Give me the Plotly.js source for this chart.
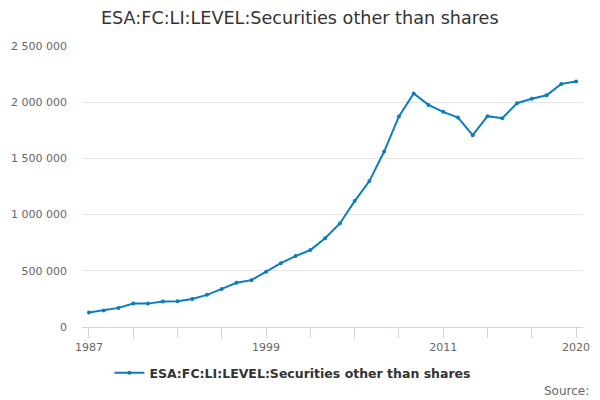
<!DOCTYPE html>
<html>
<head>
<meta charset="utf-8">
<script src="https://cdn.plot.ly/plotly-3.0.1.min.js"></script>
<style>
  html, body { margin: 0; padding: 0; background: #fff; }
  #chart { width: 600px; height: 400px; }
</style>
</head>
<body>
<div id="chart"></div>
<script>
// ESA:FC:LI:LEVEL - Securities other than shares, annual
var years = [1987, 1988, 1989, 1990, 1991, 1992, 1993, 1994, 1995, 1996, 1997, 1998,
             1999, 2000, 2001, 2002, 2003, 2004, 2005, 2006, 2007, 2008, 2009, 2010,
             2011, 2012, 2013, 2014, 2015, 2016, 2017, 2018, 2019, 2020];
var values = [128000, 146000, 170000, 208000, 208000, 226000, 229000, 250000, 286000, 339000, 393000, 417000,
              491000, 568000, 631000, 685000, 790000, 921000, 1120000, 1298000, 1561000, 1873000, 2077000, 1976000,
              1914000, 1864000, 1707000, 1876000, 1858000, 1991000, 2030000, 2062000, 2163000, 2184000];
var tickYears = [1987, 1990, 1993, 1996, 1999, 2002, 2005, 2008, 2011, 2014, 2017, 2020];
var tickLabels = ['1987', '', '', '', '1999', '', '', '', '2011', '', '', '2020'];
var yTicks = [0, 500000, 1000000, 1500000, 2000000, 2500000];

var trace1 = {
  x: years,
  y: values,
  name: 'ESA:FC:LI:LEVEL:Securities other than shares',
  type: 'scatter',
  mode: 'lines+markers',
  line: { color: '#0b7cc1', width: 2 },
  marker: { color: '#0b7cc1', size: 4 },
  hoverinfo: 'x+y'
};

var layout = {
  width: 600,
  height: 400,
  separators: '. ',
  font: { family: 'DejaVu Sans, sans-serif', color: '#666666', size: 11 },
  title: {
    text: 'ESA:FC:LI:LEVEL:Securities other than shares',
    font: { family: 'DejaVu Sans, sans-serif', size: 17.6, color: '#333333' },
    x: 101 / 600,
    xanchor: 'left',
    y: 1 - 18 / 400,
    yanchor: 'middle'
  },
  showlegend: true,
  legend: {
    orientation: 'h',
    x: 0.421,
    xanchor: 'center',
    y: -0.164,
    yanchor: 'middle',
    font: { size: 12.5, color: '#333333', weight: 'bold' }
  },
  xaxis: {
    range: [1986.53, 2020.47],
    tickmode: 'array',
    tickvals: tickYears,
    ticktext: tickLabels,
    ticks: 'outside',
    ticklen: 10,
    tickcolor: '#ccd6eb',
    showline: true,
    linecolor: '#ccd6eb',
    showgrid: false,
    zeroline: false,
    tickfont: { size: 11, color: '#666666' }
  },
  yaxis: {
    range: [0, 2500000],
    tickmode: 'array',
    tickvals: yTicks,
    tickformat: ',d',
    showgrid: true,
    gridcolor: '#e6e6e6',
    zeroline: false,
    ticklabelstandoff: 14,
    tickfont: { size: 11, color: '#666666' }
  },
  annotations: [{
    text: 'Source:',
    xref: 'paper',
    yref: 'paper',
    x: (591 - 82) / (583 - 82),
    xanchor: 'right',
    y: -(391 - 327) / 281,
    yanchor: 'middle',
    showarrow: false,
    font: { size: 12, color: '#666666' }
  }],
  margin: { t: 46, r: 17, b: 73, l: 82 },
  plot_bgcolor: '#ffffff',
  paper_bgcolor: '#ffffff'
};

var config = {
  responsive: false,
  displayModeBar: false
};

Plotly.newPlot('chart', [trace1], layout, config);
</script>
</body>
</html>
